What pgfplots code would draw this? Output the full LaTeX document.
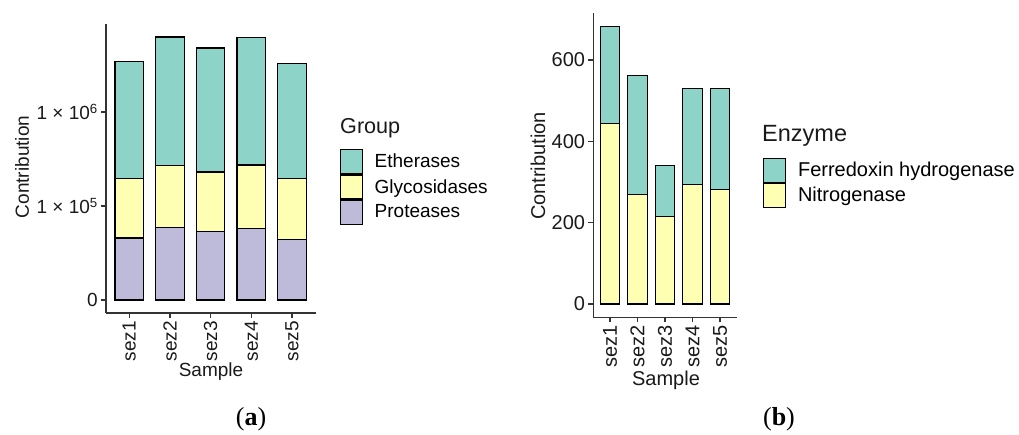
\documentclass[border=0pt]{standalone}
\usepackage{fontspec}
\setmainfont{Liberation Sans}
\newfontfamily\capfont{Liberation Serif}
\usepackage{pgfplots}
\pgfplotsset{compat=1.18}
\definecolor{cE}{HTML}{8DD3C7}
\definecolor{cG}{HTML}{FFFFB3}
\definecolor{cP}{HTML}{BEBADA}
\definecolor{axc}{HTML}{333333}
\definecolor{txt}{HTML}{1A1A1A}

\pgfplotsset{
 common/.style={
  scale only axis,
  axis x line*=bottom, axis y line*=left,
  axis line style={axc, line width=1.3pt},
  every tick/.style={axc, line width=1.3pt},
  tick align=outside, major tick length=5pt,
  ybar stacked, bar width=0.7,
  xtick={1,2,3,4,5}, xticklabels={sez1,sez2,sez3,sez4,sez5},
  xticklabel style={rotate=90, anchor=east, font=\fontsize{#1}{22}\selectfont, text=txt, inner sep=3pt},
  yticklabel style={font=\fontsize{#1}{22}\selectfont, text=txt, inner sep=3pt},
  /pgf/number format/assume math mode=true,
  legend style={draw=none, fill=none, anchor=north west, font=\fontsize{#1}{22}\selectfont, row sep=0pt, column sep=12pt, inner sep=0pt, nodes={inner sep=0pt}},
  legend cell align=left,
  legend image code/.code={\draw[##1, line width=1.2pt] (0pt,-12pt) rectangle (22pt,12pt);},
  reverse legend,
  every axis plot/.append style={draw=black, line width=1.2pt},
 },
}

\begin{document}
\begin{tikzpicture}[x=1pt,y=1pt]
\path (0,0) rectangle (1019,432);

% ---------- panel (a) ----------
\begin{axis}[common=19, at={(106pt,119pt)}, anchor=south west,
  width=210pt, height=289pt,
  xmin=0.427, xmax=5.59, ymin=-0.138, ymax=2.936,
  ytick={0,1,2}, yticklabels={0, {1 × 10\textsuperscript{5}}, {1 × 10\textsuperscript{6}}},
  legend style={at={(axis description cs:1.111,0.5675)}}]
\addplot[fill=cP] coordinates {(1,0.660) (2,0.773) (3,0.731) (4,0.759) (5,0.646)};
\addlegendentry{Proteases}
\addplot[fill=cG] coordinates {(1,0.630) (2,0.656) (3,0.631) (4,0.677) (5,0.644)};
\addlegendentry{Glycosidases}
\addplot[fill=cE] coordinates {(1,1.249) (2,1.369) (3,1.319) (4,1.355) (5,1.224)};
\addlegendentry{Etherases}
\end{axis}
\node[rotate=90, font=\fontsize{19}{22}\selectfont, text=txt] at (22,265) {Contribution};
\node[font=\fontsize{19}{22}\selectfont, text=txt] at (211,60) {Sample};
\node[anchor=west, font=\fontsize{21.6}{24}\selectfont, text=txt, inner sep=0pt] at (340,304) {Group};

% ---------- panel (b) ----------
\begin{axis}[common=20, at={(593.3pt,114.7pt)}, anchor=south west,
  width=144pt, height=304pt,
  xmin=0.393, xmax=5.63, ymin=-32.7, ymax=715,
  ytick={0,200,400,600},
  legend style={at={(axis description cs:1.176,0.526)}}]
\addplot[fill=cG] coordinates {(1,443) (2,269) (3,215) (4,293) (5,281)};
\addlegendentry{Nitrogenase}
\addplot[fill=cE] coordinates {(1,239) (2,293) (3,126) (4,238) (5,249)};
\addlegendentry{Ferredoxin hydrogenase}
\end{axis}
\node[rotate=90, font=\fontsize{20}{22}\selectfont, text=txt] at (538,266) {Contribution};
\node[font=\fontsize{20}{22}\selectfont, text=txt] at (666,52) {Sample};
\node[anchor=west, font=\fontsize{23.5}{26}\selectfont, text=txt, inner sep=0pt] at (762,296.5) {Enzyme};

% captions
\node[font=\capfont\fontsize{26}{30}\selectfont] at (251,13) {(\textbf{a})};
\node[font=\capfont\fontsize{26}{30}\selectfont] at (779,13) {(\textbf{b})};
\end{tikzpicture}
\end{document}
